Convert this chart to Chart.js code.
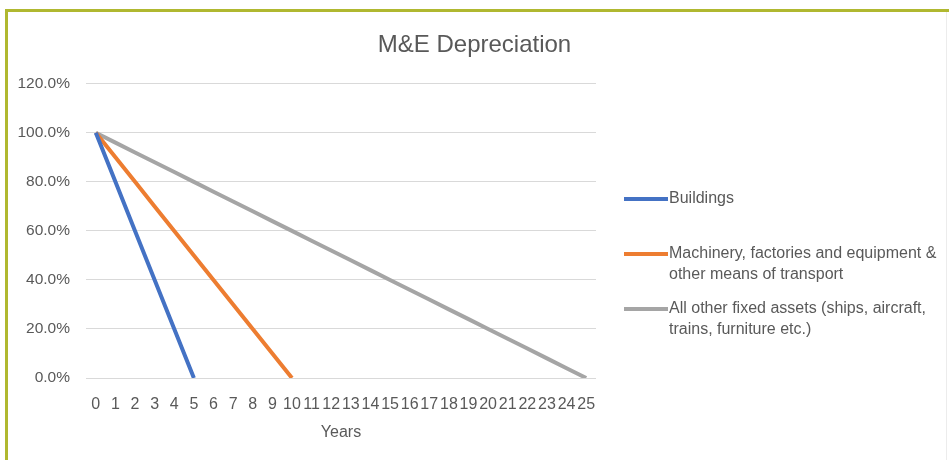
<!DOCTYPE html>
<html>
<head>
<meta charset="utf-8">
<script src="https://cdn.jsdelivr.net/npm/chart.js@4/dist/chart.umd.min.js"></script>
<style>
  html, body { margin: 0; padding: 0; background: #ffffff; }
  #wrap { position: relative; width: 949px; height: 460px; overflow: hidden; }
  #frame {
    position: absolute; left: 5px; top: 9px; width: 2000px; height: 2000px;
    border-left: 3px solid #b0b830; border-top: 3px solid #b0b830;
    pointer-events: none;
  }
  #edge { position: absolute; left: 946px; top: 12px; width: 1px; height: 448px; background: #ececec; }
</style>
</head>
<body>
<div id="wrap">
  <canvas id="chart" width="949" height="460"></canvas>
  <div id="frame"></div>
  <div id="edge"></div>
</div>
<script>
// Years since acquisition
const years = ['0','1','2','3','4','5','6','7','8','9','10','11','12','13','14','15','16','17','18','19','20','21','22','23','24','25'];

// Remaining book value (%) per asset class
const buildings = [100, 80, 60, 40, 20, 0];
const machinery = [100, 90, 80, 70, 60, 50, 40, 30, 20, 10, 0];
const otherAssets = [100, 96, 92, 88, 84, 80, 76, 72, 68, 64, 60, 56, 52, 48, 44, 40, 36, 32, 28, 24, 20, 16, 12, 8, 4, 0];

// Legend wording, one entry per line of text
const buildingsName = ['Buildings'];
const machineryName = ['Machinery, factories and equipment &', 'other means of transport'];
const otherName = ['All other fixed assets (ships, aircraft,', 'trains, furniture etc.)'];

const textColor = '#595959';
const fontFamily = '"Liberation Sans", Arial, sans-serif';

// Right-hand legend with wrapped labels
const sideLegend = {
  id: 'sideLegend',
  afterDraw(chart) {
    const ctx = chart.ctx;
    const area = chart.chartArea;
    const x0 = area.right + 28;
    const lineLen = 44;
    ctx.save();
    ctx.font = '16px ' + fontFamily;
    ctx.textBaseline = 'middle';
    ctx.textAlign = 'left';
    chart.data.datasets.forEach((ds, i) => {
      const y = 199 + i * 55;
      ctx.strokeStyle = ds.borderColor;
      ctx.lineWidth = 4;
      ctx.lineCap = 'butt';
      ctx.beginPath();
      ctx.moveTo(x0, y);
      ctx.lineTo(x0 + lineLen, y);
      ctx.stroke();
      ctx.fillStyle = textColor;
      ds.nameLines.forEach((t, j) => ctx.fillText(t, x0 + lineLen + 1, y + j * 20.5));
    });
    ctx.restore();
  }
};

function series(name, values, color) {
  return {
    label: name.join(' '),
    nameLines: name,
    data: values,
    borderColor: color,
    backgroundColor: color,
    borderWidth: 4,
    pointRadius: 0,
    pointHoverRadius: 0,
    tension: 0,
    fill: false
  };
}

new Chart(document.getElementById('chart'), {
  type: 'line',
  data: {
    labels: years,
    datasets: [
      series(buildingsName, buildings, '#4472c4'),
      series(machineryName, machinery, '#ed7d31'),
      series(otherName, otherAssets, '#a5a5a5')
    ]
  },
  options: {
    responsive: false,
    animation: false,
    events: [],
    layout: { padding: 0 },
    plugins: {
      legend: { display: false },
      tooltip: { enabled: false },
      title: {
        display: true,
        text: 'M&E Depreciation',
        color: textColor,
        font: { family: fontFamily, size: 24, weight: 'normal' },
        padding: { top: 31, bottom: 24 }
      }
    },
    scales: {
      x: {
        type: 'category',
        offset: true,
        grid: { display: false, drawTicks: false },
        border: { display: false },
        ticks: {
          color: textColor,
          font: { family: fontFamily, size: 16 },
          autoSkip: false,
          maxRotation: 0,
          minRotation: 0,
          padding: 17
        },
        title: {
          display: true,
          text: 'Years',
          color: textColor,
          font: { family: fontFamily, size: 16 },
          padding: { top: 0, bottom: 18 }
        },
        afterFit(scale) { scale.height = 82; }
      },
      y: {
        min: 0,
        max: 120,
        grid: { color: '#d9d9d9', lineWidth: 1, drawTicks: false },
        border: { display: false },
        ticks: {
          stepSize: 20,
          color: textColor,
          font: { family: fontFamily, size: 15.5 },
          padding: 16,
          callback: v => v.toFixed(1) + '%'
        },
        afterFit(scale) { scale.width = 86; }
      },
      // empty right-hand axis that reserves room for the legend
      legendSpace: {
        type: 'linear',
        position: 'right',
        min: 0,
        max: 120,
        grid: { display: false, drawTicks: false },
        border: { display: false },
        ticks: { display: false },
        afterFit(scale) { scale.width = 353; }
      }
    }
  },
  plugins: [sideLegend]
});
</script>
</body>
</html>
